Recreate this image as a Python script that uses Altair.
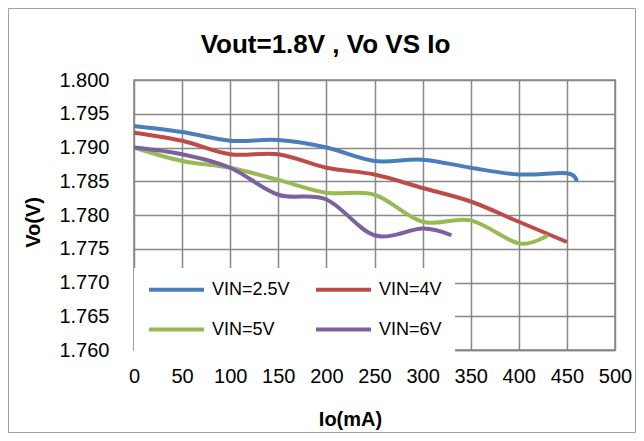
import altair as alt
import pandas as pd

series_names = ["VIN=2.5V", "VIN=4V", "VIN=5V", "VIN=6V"]
series_colors = ["#4A7EBB", "#BE4B48", "#98B954", "#7D60A0"]

io_25 = [0, 50, 100, 150, 200, 250, 300, 350, 400, 450, 460]
vo_25 = [1.7932, 1.7923, 1.7910, 1.7911, 1.7900, 1.7880, 1.7882, 1.7870, 1.7860, 1.7862, 1.7850]

io_4 = [0, 50, 100, 150, 200, 250, 300, 350, 400, 450]
vo_4 = [1.7922, 1.7910, 1.7890, 1.7890, 1.7870, 1.7860, 1.7840, 1.7820, 1.7790, 1.7760]

io_5 = [0, 50, 100, 150, 200, 250, 300, 350, 400, 430]
vo_5 = [1.7900, 1.7880, 1.7870, 1.7852, 1.7833, 1.7830, 1.7790, 1.7792, 1.7758, 1.7770]

io_6 = [0, 50, 100, 150, 200, 250, 300, 330]
vo_6 = [1.7900, 1.7890, 1.7870, 1.7830, 1.7823, 1.7770, 1.7780, 1.7770]

x_ticks = [0, 50, 100, 150, 200, 250, 300, 350, 400, 450, 500]
y_ticks = [1.760, 1.765, 1.770, 1.775, 1.780, 1.785, 1.790, 1.795, 1.800]

rows = []
for name, xs, ys in zip(series_names, [io_25, io_4, io_5, io_6], [vo_25, vo_4, vo_5, vo_6]):
    for xv, yv in zip(xs, ys):
        rows.append({"series": name, "Io": xv, "Vo": yv})
df = pd.DataFrame(rows)

FONT = "Liberation Sans"
W, H = 481, 270
PAD = {"left": 126, "top": 72, "right": 21, "bottom": 83}

lines = alt.Chart(df).mark_line(interpolate="cardinal", strokeWidth=4).encode(
    x=alt.X("Io:Q", scale=alt.Scale(domain=[0, 500], nice=False),
            axis=alt.Axis(values=x_ticks, title="Io(mA)", ticks=False, tickSize=0,
                          labelPadding=16, labelFontSize=20, labelFont=FONT, labelOverlap=False,
                          labelFlush=False,
                          titleFont=FONT, titleFontSize=20, titleFontWeight="bold",
                          titleX=216, titleY=75, titleBaseline="alphabetic", titleAlign="center",
                          domainColor="#888888", domainWidth=1.5, labelColor="#000000",
                          titleColor="#000000")),
    y=alt.Y("Vo:Q", scale=alt.Scale(domain=[1.76, 1.80], nice=False, zero=False),
            axis=alt.Axis(values=y_ticks, format=".3f", title="Vo(V)", ticks=False, tickSize=0,
                          labelPadding=25, labelFontSize=20, labelFont=FONT, labelOverlap=False,
                          labelFlush=False,
                          titleFont=FONT, titleFontSize=20, titleFontWeight="bold",
                          titleX=-95, titleY=142, titleAngle=-90, titleBaseline="alphabetic",
                          titleAlign="center", domain=False, labelColor="#000000",
                          titleColor="#000000")),
    color=alt.Color("series:N", scale=alt.Scale(domain=series_names, range=series_colors),
                    legend=alt.Legend(title=None, orient="none", legendX=0, legendY=188,
                                      direction="horizontal", gridAlign="all",
                                      columns=2, symbolType="stroke", symbolSize=3025,
                                      symbolStrokeWidth=4, labelFontSize=18, labelFont=FONT,
                                      labelColor="#000000", labelOffset=6, clipHeight=17,
                                      rowPadding=21, columnPadding=24, padding=13,
                                      fillColor="white")),
)

border = alt.Chart(alt.Data(values=[{"k": 1}])).mark_rect(
    fill="transparent", stroke="#A0A0A0", strokeWidth=1
).encode(
    x=alt.value(-PAD["left"] + 0.5),
    x2=alt.value(W + PAD["right"] - 0.5),
    y=alt.value(-PAD["top"] + 0.5),
    y2=alt.value(H + PAD["bottom"] - 0.5),
)

chart = alt.layer(border, lines).properties(
    width=W, height=H,
    autosize=alt.AutoSizeParams(type="none"),
    padding=PAD,
    title=alt.Title("Vout=1.8V , Vo VS Io", font=FONT, fontSize=26, fontWeight="bold",
                    anchor="middle", dx=-49, dy=50, offset=0, color="#000000"),
).configure_axis(
    gridColor="#888888", gridWidth=1.5, gridOpacity=1,
).configure_view(stroke="#888888", strokeWidth=1.5)

chart.save("out.html", embed_options={"renderer": "svg", "actions": False})
